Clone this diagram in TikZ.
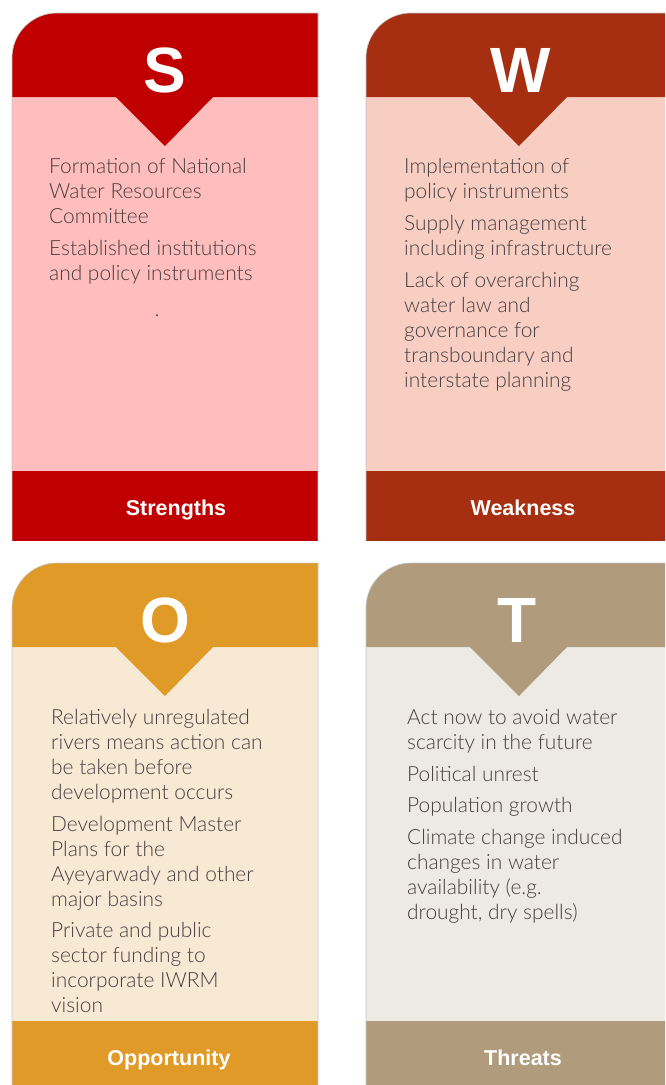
\documentclass[tikz,border=0pt]{standalone}
\usepackage{fontspec}
\IfFontExistsTF{Lato Light}{\setmainfont{Lato Light}}{\setmainfont{Lato}}
\newfontfamily\headfont{Liberation Sans}
\usetikzlibrary{positioning}
\definecolor{sred}{RGB}{192,0,0}
\definecolor{spink}{RGB}{255,189,189}
\definecolor{wrust}{RGB}{165,47,16}
\definecolor{wpeach}{RGB}{248,206,195}
\definecolor{oamber}{RGB}{224,154,40}
\definecolor{ocream}{RGB}{248,233,212}
\definecolor{ttaupe}{RGB}{176,156,124}
\definecolor{tlinen}{RGB}{237,234,227}
\definecolor{bodytext}{RGB}{70,62,62}
\tikzset{
  letter/.style={font=\headfont\bfseries\fontsize{64}{64}\selectfont,text=white,inner sep=0pt,anchor=base},
  foot/.style={font=\headfont\bfseries\fontsize{21.5}{24}\selectfont,text=white,inner sep=0pt,anchor=base},
  points/.style={font=\fontsize{20.9}{25}\selectfont,text=bodytext,align=left,anchor=north west,inner sep=0pt},
  rim/.style={draw=black!22,line width=0.6pt}
}
\begin{document}
\begin{tikzpicture}[x=1pt,y=-1pt]
\useasboundingbox (0,0) rectangle (665,1085);
\clip (0,0) rectangle (665,1085);
% card = header (84) + body (374) + footer (70), 306 wide
\foreach \l/\t/\hd/\bd in {12/13/sred/spink,366/13/wrust/wpeach,12/563/oamber/ocream,366/563/ttaupe/tlinen} {
 \fill[\bd] (\l,\t+84) rectangle (\l+306,\t+458);
 \fill[\hd] (\l,\t+84) -- (\l,\t+45) arc[start angle=180,end angle=270,radius=45]
   -- (\l+306,\t) -- (\l+306,\t+84) -- (\l+201,\t+84) -- (\l+153,\t+133) -- (\l+104,\t+84) -- cycle;
 \fill[\hd] (\l,\t+458) rectangle (\l+306,\t+528);
 \draw[rim] (\l,\t+528) -- (\l,\t+45) arc[start angle=180,end angle=270,radius=45]
   -- (\l+306,\t) -- (\l+306,\t+528);
}
\node[letter] (s-letter) at (165,92) {S};
\node[letter] (w-letter) at (521,92) {W};
\node[letter] (o-letter) at (165,642) {O};
\node[letter] (t-letter) at (517,642) {T};

% list tops sit one ascender above the first baseline
\node[points] (s-text) at (49,158) {Formation of National\\Water Resources\\Committee\\[7pt]Established institutions\\and policy instruments};
\node[font=\fontsize{20.9}{25}\selectfont,text=bodytext,anchor=base,inner sep=0pt] (s-dot) at (157,316) {.};
\node[points] (w-text) at (404,158) {Implementation of\\policy instruments\\[7pt]Supply management\\including infrastructure\\[7pt]Lack of overarching\\water law and\\governance for\\transboundary and\\interstate planning};
\node[points] (o-text) at (51,709) {Relatively unregulated\\rivers means action can\\be taken before\\development occurs\\[7pt]Development Master\\Plans for the\\Ayeyarwady and other\\major basins\\[6pt]Private and public\\sector funding to\\incorporate IWRM\\vision};
\node[points] (t-text) at (407,709) {Act now to avoid water\\scarcity in the future\\[7pt]Political unrest\\[6pt]Population growth\\[7pt]Climate change induced\\changes in water\\availability (e.g.\\drought, dry spells)};

\node[foot] (s-foot) at (176,515) {Strengths};
\node[foot] (w-foot) at (523,515) {Weakness};
\node[foot] (o-foot) at (169,1065) {Opportunity};
\node[foot] (t-foot) at (523,1065) {Threats};
\end{tikzpicture}
\end{document}
